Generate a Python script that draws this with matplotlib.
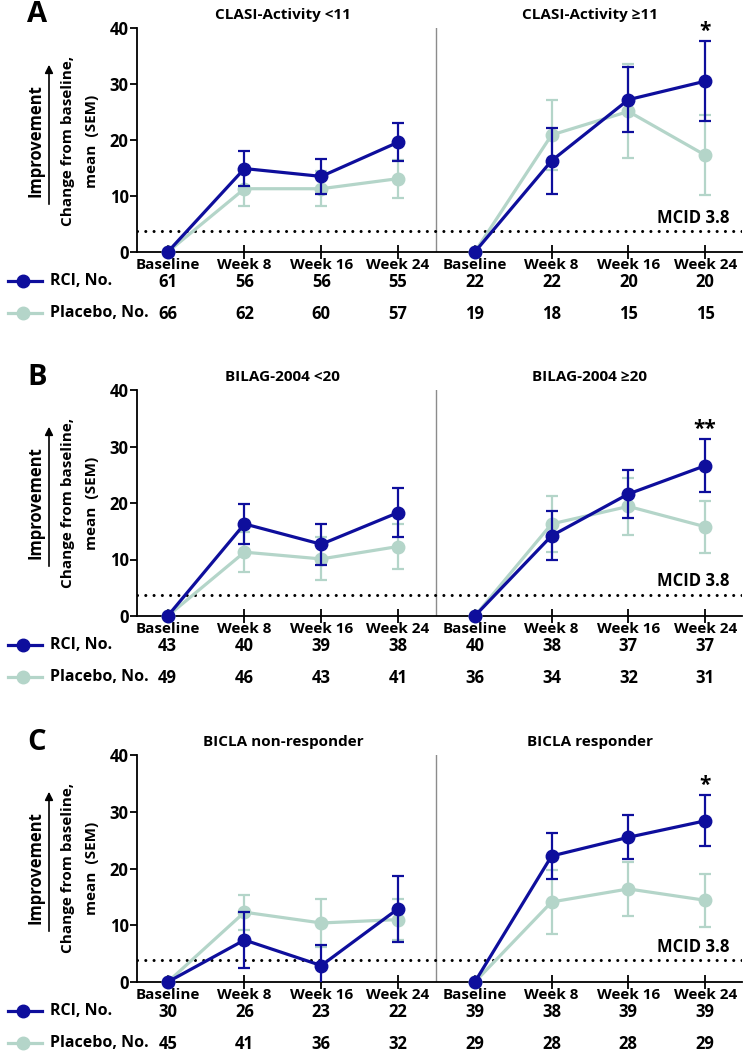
import matplotlib
matplotlib.use("Agg")
import matplotlib.pyplot as plt
import matplotlib.transforms as mtrans
import numpy as np

plt.rcParams['font.family'] = ['Open Sans', 'DejaVu Sans']
plt.rcParams['font.weight'] = 'bold'

timepoints = ["Baseline", "Week 8", "Week 16", "Week 24"]

panel_letters = ["A", "B", "C"]
left_titles = ["CLASI-Activity <11", "BILAG-2004 <20", "BICLA non-responder"]
right_titles = ["CLASI-Activity \u226511", "BILAG-2004 \u226520", "BICLA responder"]

# mean change from baseline; order: left subgroup (4 timepoints), right subgroup (4 timepoints)
rci_mean = [
    [0, 14.9, 13.5, 19.6, 0, 16.3, 27.2, 30.5],
    [0, 16.3, 12.7, 18.3, 0, 14.2, 21.6, 26.6],
    [0, 7.4, 2.9, 12.9, 0, 22.2, 25.5, 28.4],
]
rci_sem = [
    [0, 3.2, 3.1, 3.4, 0, 5.9, 5.8, 7.1],
    [0, 3.6, 3.6, 4.3, 0, 4.3, 4.2, 4.7],
    [0, 5.0, 3.6, 5.8, 0, 4.0, 3.9, 4.5],
]
pbo_mean = [
    [0, 11.3, 11.3, 13.1, 0, 20.9, 25.1, 17.3],
    [0, 11.3, 10.1, 12.3, 0, 16.3, 19.4, 15.8],
    [0, 12.3, 10.4, 11.0, 0, 14.1, 16.4, 14.4],
]
pbo_sem = [
    [0, 3.1, 3.1, 3.4, 0, 6.3, 8.4, 7.2],
    [0, 3.6, 3.8, 4.0, 0, 4.9, 5.1, 4.6],
    [0, 3.1, 4.2, 3.6, 0, 5.6, 4.7, 4.7],
]
rci_n = [
    [61, 56, 56, 55, 22, 22, 20, 20],
    [43, 40, 39, 38, 40, 38, 37, 37],
    [30, 26, 23, 22, 39, 38, 39, 39],
]
pbo_n = [
    [66, 62, 60, 57, 19, 18, 15, 15],
    [49, 46, 43, 41, 36, 34, 32, 31],
    [45, 41, 36, 32, 29, 28, 28, 29],
]
significance = ["*", "**", "*"]
mcid = 3.8

RCI_C = "#0e0e9c"
PBO_C = "#b4d5c9"
FS = 11

fig = plt.figure(figsize=(7.49, 10.57), dpi=100)
W, H = 749, 1057
ax_px = [(28, 252), (390, 616), (755, 982)]
left_px, right_px = 137, 742

x = np.arange(8)
xlabels = timepoints * 2

for p in range(3):
    top, bot = ax_px[p]
    hpx = bot - top
    ax = fig.add_axes([left_px / W, 1 - bot / H, (right_px - left_px) / W, hpx / H])
    ax.set_xlim(-0.4, 7.48)
    ax.set_ylim(0, 40)
    for s in ["top", "right"]:
        ax.spines[s].set_visible(False)
    for s in ["left", "bottom"]:
        ax.spines[s].set_linewidth(1.3)
    ax.set_yticks([0, 10, 20, 30, 40])
    ax.set_xticks(x)
    ax.set_xticklabels(xlabels, fontsize=FS, fontweight='bold')
    ax.tick_params(axis='y', labelsize=FS + 1, width=1.3, length=5, pad=1)
    ax.tick_params(axis='x', direction='inout', width=1.3, length=10, pad=-1)
    for lab in ax.get_yticklabels():
        lab.set_fontweight('bold')

    # divider
    ax.axvline(3.5, color="#8c8c8c", lw=1.0, zorder=1)
    # MCID line
    ax.axhline(mcid, color="black", ls=(0, (0.01, 2.7)), lw=2.2, zorder=1,
               dash_capstyle='round')
    ax.annotate("MCID 3.8", xy=(1.0, mcid), xycoords=mtrans.blended_transform_factory(ax.transAxes, ax.transData),
                xytext=(-9, 3), textcoords="offset points", ha="right", va="bottom",
                fontsize=FS + 1, fontweight='bold')

    for grp in (slice(0, 4), slice(4, 8)):
        xs = x[grp]
        for mean, sem, col, z in ((pbo_mean[p], pbo_sem[p], PBO_C, 3), (rci_mean[p], rci_sem[p], RCI_C, 5)):
            m = np.array(mean)[grp]
            e = np.array(sem)[grp]
            ax.errorbar(xs[1:], m[1:], yerr=e[1:], fmt='none', ecolor=col, elinewidth=1.6,
                        capsize=4, capthick=1.6, zorder=z)
            ax.plot(xs, m, color=col, lw=2.3, marker='o', ms=9, zorder=z + 1, clip_on=False)

    # significance marker
    top_val = rci_mean[p][7] + rci_sem[p][7]
    ax.annotate(significance[p], xy=(x[7], top_val), xytext=(0, 3), textcoords="offset points",
                ha="center", va="baseline", fontsize=FS + 4, fontweight='bold')

    # titles
    ax.text(1.5, 40 + 13 * 40 / hpx, left_titles[p], ha="center", va="center", fontsize=FS, fontweight='bold')
    ax.text(5.5, 40 + 13 * 40 / hpx, right_titles[p], ha="center", va="center", fontsize=FS, fontweight='bold')

    # count table
    trans = mtrans.blended_transform_factory(ax.transData, ax.transAxes)
    for i in range(8):
        ax.text(x[i], -30 / hpx, str(rci_n[p][i]), transform=trans, ha="center", va="center",
                fontsize=FS + 1, fontweight='bold')
        ax.text(x[i], -62 / hpx, str(pbo_n[p][i]), transform=trans, ha="center", va="center",
                fontsize=FS + 1, fontweight='bold')

    # legend-like row labels
    for row_y, col, lab in ((bot + 29, RCI_C, "RCI, No."), (bot + 61, PBO_C, "Placebo, No.")):
        fy = 1 - row_y / H
        fig.add_artist(plt.Line2D([8 / W, 42 / W], [fy, fy], color=col, lw=2.3, marker=None))
        fig.add_artist(plt.Line2D([23 / W], [fy], color=col, marker='o', ms=9, lw=0))
        fig.text(50 / W, fy, lab, ha="left", va="center", fontsize=FS + 0.5, fontweight='bold')

    # panel letter
    fig.text(27 / W, 1 - (top - 13) / H, panel_letters[p], ha="left", va="center", fontsize=21, fontweight='bold')

    # y labels
    cy = 1 - (top + 113) / H
    fig.text(35 / W, cy, "Improvement", rotation=90, ha="center", va="center", fontsize=FS + 1, fontweight='bold')
    fig.text(68 / W, cy, "Change from baseline,", rotation=90, ha="center", va="center", fontsize=FS, fontweight='bold')
    fig.text(92 / W, cy, "mean  (SEM)", rotation=90, ha="center", va="center", fontsize=FS, fontweight='bold')
    fig.add_artist(matplotlib.patches.FancyArrowPatch((49 / W, 1 - (top + 179) / H), (49 / W, 1 - (top + 34) / H),
                                                      transform=fig.transFigure, arrowstyle='-|>', mutation_scale=12,
                                                      color='black', lw=1.2))

fig.savefig("out.png", dpi=100)
